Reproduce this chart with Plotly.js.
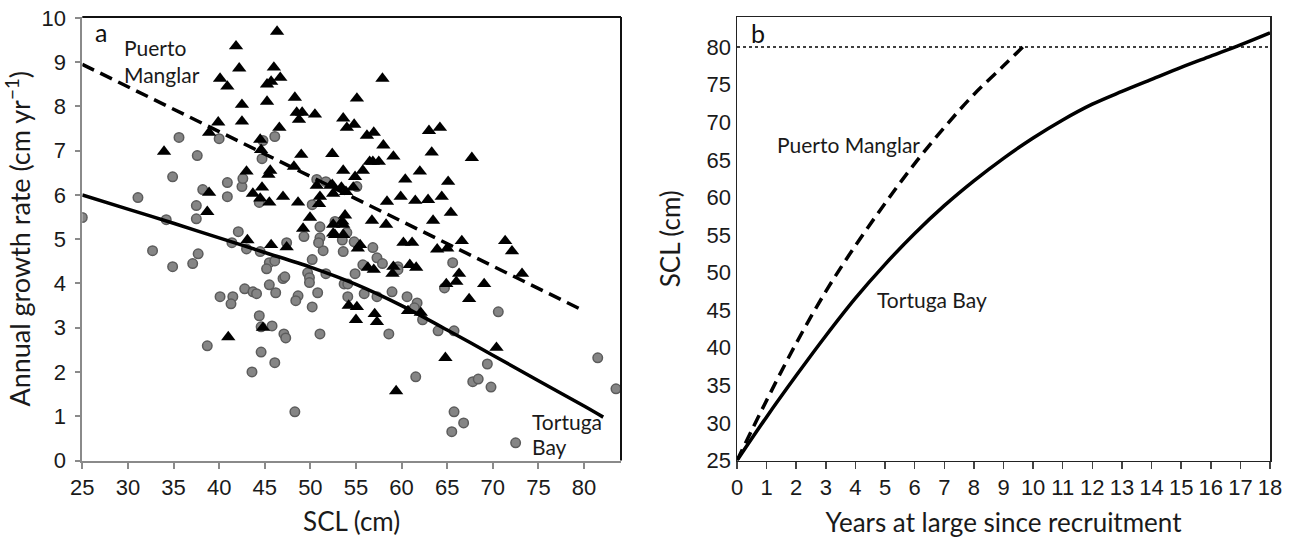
<!DOCTYPE html>
<html>
<head>
<meta charset="utf-8">
<script src="https://cdn.plot.ly/plotly-3.0.1.min.js"></script>
<style>html,body{margin:0;padding:0;background:#fff}#chart{width:1296px;height:542px}</style>
</head>
<body>
<div id="chart"></div>
<script>
// ---------- Panel a: Puerto Manglar (triangles) ----------
const pmSCL = [46.35,41.85,42.2,46.0,40.1,40.9,46.7,45.25,45.7,42.5,45.25,48.3,42.5,39.9,38.9,46.6,48.5,49.1,48.75,50.5,
  53.6,54.0,54.8,55.1,33.96,44.5,44.6,49.0,52.4,43.0,45.6,45.4,48.2,53.6,54.9,54.7,38.9,43.7,44.7,44.5,
  45.5,47.0,48.65,50.7,51.05,50.95,52.5,53.4,53.9,38.7,49.96,53.8,53.5,57.9,56.2,56.95,58.0,63.0,64.2,56.85,
  56.5,57.5,59.1,63.3,67.7,55.75,62.0,60.4,65.1,52.4,58.4,59.9,61.5,62.9,64.4,65.4,56.75,58.3,63.45,52.5,
  53.6,71.35,72.1,66.6,60.2,61.15,63.9,65.0,55.45,55.2,60.9,61.6,59.1,59.0,56.3,56.95,73.2,66.3,66.0,69.05,
  64.9,67.4,54.2,55.1,55.0,57.05,57.3,62.1,60.7,49.2,52.5,53.6,52.7,43.1,45.7,47.4,41.0,44.8,59.4,64.8,
  70.4,52.2];
const pmGrowth = [9.69,9.36,8.86,8.88,8.63,8.45,8.65,8.50,8.56,8.04,8.11,8.20,7.66,7.64,7.41,7.52,7.86,7.86,7.70,7.82,
  7.73,7.52,7.59,8.18,6.98,7.25,7.02,6.91,6.93,6.53,6.55,6.46,6.64,6.55,6.41,6.17,6.05,6.03,6.17,5.92,
  5.83,5.96,5.83,6.21,5.96,5.80,6.03,6.17,6.07,5.62,5.49,5.54,5.40,8.63,7.34,7.41,7.12,7.45,7.52,6.75,
  6.75,6.75,6.87,6.96,6.84,6.55,6.53,6.35,6.30,6.23,5.85,5.96,5.87,5.89,5.96,5.60,5.42,5.33,5.42,5.33,
  5.33,4.96,4.73,4.96,4.92,4.92,4.77,4.79,4.87,4.79,4.42,4.36,4.38,4.22,4.36,4.31,4.22,4.22,4.04,3.99,
  3.99,3.65,3.50,3.47,3.18,3.31,3.13,3.34,3.38,5.24,5.13,5.10,5.10,4.98,4.87,4.82,2.79,3.00,1.57,2.32,
  2.55,6.21];

// ---------- Panel a: Tortuga Bay (circles) ----------
const tbSCL = [25.0,31.1,34.2,34.9,35.6,37.6,37.5,37.5,38.2,40.0,40.9,40.9,42.5,42.6,44.4,44.7,44.8,46.1,42.1,50.2,
  50.7,51.7,52.7,51.05,55.1,32.7,34.9,37.7,37.1,41.4,43.0,44.5,45.5,46.1,45.2,47.4,47.0,47.2,45.5,46.2,
  42.8,43.7,44.1,40.1,41.5,41.3,44.4,50.2,49.7,49.9,49.9,48.65,48.4,50.8,50.2,51.7,51.4,51.05,50.9,49.3,
  53.5,53.6,53.7,54.1,54.1,54.8,56.85,57.3,57.9,55.75,54.9,59.6,59.6,65.6,64.7,58.95,60.6,61.7,61.4,55.9,
  57.3,70.6,51.05,54.0,58.6,62.3,64.0,65.75,61.55,69.4,67.8,68.4,69.8,65.75,66.8,65.5,72.5,81.5,83.5,38.7,
  44.6,45.8,47.1,47.3,44.6,46.1,43.6,48.3];
const tbGrowth = [5.49,5.94,5.44,6.41,7.30,6.89,5.76,5.46,6.12,7.27,6.28,5.96,6.19,6.37,5.83,6.82,7.23,7.32,5.17,5.78,
  6.35,6.30,5.40,5.28,6.19,4.74,4.38,4.67,4.45,4.92,4.78,4.72,4.47,4.51,4.33,4.92,4.11,4.15,3.97,3.79,
  3.88,3.81,3.77,3.70,3.70,3.54,3.27,4.54,4.24,4.13,4.02,3.72,3.61,3.79,3.47,4.22,4.74,5.03,4.92,5.06,
  4.98,4.72,3.99,3.99,3.70,4.94,4.81,4.58,4.45,4.42,4.22,4.38,4.31,4.47,3.90,3.81,3.70,3.56,3.45,3.77,
  3.70,3.36,2.86,5.15,2.86,3.18,2.93,2.93,1.89,2.18,1.78,1.84,1.66,1.10,0.85,0.65,0.40,2.32,1.62,2.59,
  3.02,3.04,2.86,2.77,2.45,2.21,2.00,1.10];

// ---------- Panel a: fitted lines ----------
const pmFitSCL = [25, 80];
const pmFitGrowth = [8.95, 3.38];
const tbFitSCL = [25, 30, 35, 40, 45, 50, 55, 60, 65, 70, 75, 80, 82.1];
const tbFitGrowth = [6.0, 5.68, 5.36, 5.03, 4.7, 4.37, 3.98, 3.5, 2.95, 2.38, 1.8, 1.23, 0.98];

// ---------- Panel b: growth curves ----------
const pmYears = [0, 1, 2, 3, 4, 5, 6, 7, 8, 9, 9.65];
const pmCurve = [25, 33.0, 40.6, 47.5, 53.6, 59.2, 64.5, 69.3, 73.7, 77.5, 80.0];
const tbYears = [0, 1, 2, 3, 4, 5, 6, 7, 8, 9, 10, 11, 12, 13, 14, 15, 16, 17, 18];
const tbCurve = [25, 30.8, 36.3, 41.6, 46.6, 51.1, 55.2, 58.9, 62.2, 65.2, 67.9, 70.3, 72.4, 74.1, 75.7, 77.3, 78.8, 80.3, 81.9];
const refYears = [0, 18];
const refSCL = [80, 80];

// ---------- Tick values ----------
const aXTicks = [25,30,35,40,45,50,55,60,65,70,75,80];
const aYTicks = [0,1,2,3,4,5,6,7,8,9,10];
const bXTicks = [0,1,2,3,4,5,6,7,8,9,10,11,12,13,14,15,16,17,18];
const bYTicks = [25,30,35,40,45,50,55,60,65,70,75,80];

const tickFont = {family: 'Liberation Sans, Arial, sans-serif', size: 22, color: '#1a1a1a'};
const labFont = {family: 'Lato, Open Sans, sans-serif', size: 26, color: '#1a1a1a'};
const annFont = {family: 'Lato, Open Sans, sans-serif', size: 21, color: '#1a1a1a'};

const traces = [
  {x: tbSCL, y: tbGrowth, type: 'scatter', mode: 'markers', name: 'Tortuga Bay', xaxis: 'x', yaxis: 'y',
   marker: {symbol: 'circle', size: 9.5, color: '#858585', line: {color: '#5c5c5c', width: 1.5}}},
  {x: pmSCL, y: pmGrowth, type: 'scatter', mode: 'markers', name: 'Puerto Manglar', xaxis: 'x', yaxis: 'y',
   marker: {symbol: 'triangle-up', size: 12.5, color: '#000', line: {width: 0}}},
  {x: pmFitSCL, y: pmFitGrowth, type: 'scatter', mode: 'lines', xaxis: 'x', yaxis: 'y',
   line: {color: '#000', width: 3.5, dash: '13px,7px'}},
  {x: tbFitSCL, y: tbFitGrowth, type: 'scatter', mode: 'lines', xaxis: 'x', yaxis: 'y',
   line: {color: '#000', width: 3.5, shape: 'spline', smoothing: 0.8}},
  {x: refYears, y: refSCL, type: 'scatter', mode: 'lines', xaxis: 'x2', yaxis: 'y2',
   line: {color: '#000', width: 1.5, dash: 'dot'}},
  {x: pmYears, y: pmCurve, type: 'scatter', mode: 'lines', xaxis: 'x2', yaxis: 'y2',
   line: {color: '#000', width: 3.5, dash: '12px,7px', shape: 'spline'}},
  {x: tbYears, y: tbCurve, type: 'scatter', mode: 'lines', xaxis: 'x2', yaxis: 'y2',
   line: {color: '#000', width: 3.5, shape: 'spline'}}
];

const W = 1296, H = 542;
const yDom = [1 - 460.5 / H, 1 - 17 / H];

const layout = {
  width: W, height: H,
  margin: {l: 0, r: 0, t: 0, b: 0},
  paper_bgcolor: '#fff', plot_bgcolor: '#fff',
  showlegend: false,
  xaxis: {domain: [82.3 / W, 621 / W], range: [25, 84.05], tickvals: aXTicks, ticks: 'outside', ticklen: 6,
    tickcolor: '#8a8a8a', tickwidth: 2, showline: true, linecolor: '#8a8a8a', linewidth: 2, showgrid: false, zeroline: false,
    tickfont: tickFont, title: {text: 'SCL (cm)', font: labFont, standoff: 14}},
  yaxis: {domain: yDom, range: [0, 10.02], tickvals: aYTicks, ticks: 'outside', ticklen: 5,
    tickcolor: '#8a8a8a', tickwidth: 2, showline: true, linecolor: '#8a8a8a', linewidth: 2, showgrid: false, zeroline: false,
    ticklabelstandoff: 5,
    tickfont: tickFont, title: {text: 'Annual growth rate (cm yr<sup>−1</sup>)', font: {family: labFont.family, size: 27, color: '#1a1a1a'}, standoff: 8}},
  xaxis2: {domain: [737 / W, 1270 / W], range: [0, 18], tickvals: bXTicks, ticks: 'outside', ticklen: 7,
    tickcolor: '#444', tickwidth: 1.5, showline: true, linecolor: '#222', linewidth: 1.5, mirror: true, showgrid: false, zeroline: false,
    anchor: 'y2', tickfont: tickFont, title: {text: 'Years at large since recruitment', font: labFont, standoff: 14}},
  yaxis2: {domain: yDom, range: [25, 84], tickvals: bYTicks, ticks: '', showline: true, linecolor: '#222', linewidth: 1.5,
    mirror: true, showgrid: false, zeroline: false, anchor: 'x2', tickfont: tickFont,
    title: {text: 'SCL (cm)', font: labFont, standoff: 18}},
  shapes: [
    {type: 'line', xref: 'x domain', yref: 'y domain', x0: 0, x1: 1, y0: 1, y1: 1, line: {color: '#111', width: 2}},
    {type: 'line', xref: 'x domain', yref: 'y domain', x0: 1, x1: 1, y0: 0, y1: 1, line: {color: '#111', width: 2}}
  ],
  annotations: [
    {x: 26.2, y: 9.67, xref: 'x', yref: 'y', text: 'a', showarrow: false, xanchor: 'left', font: {family: annFont.family, size: 25, color: '#111'}},
    {x: 29.3, y: 9.33, xref: 'x', yref: 'y', text: 'Puerto', showarrow: false, xanchor: 'left', font: annFont},
    {x: 29.3, y: 8.72, xref: 'x', yref: 'y', text: 'Manglar', showarrow: false, xanchor: 'left', font: annFont},
    {x: 74.1, y: 0.87, xref: 'x', yref: 'y', text: 'Tortuga', showarrow: false, xanchor: 'left', font: annFont},
    {x: 74.1, y: 0.31, xref: 'x', yref: 'y', text: 'Bay', showarrow: false, xanchor: 'left', font: annFont},
    {x: 0.4, y: 81.9, xref: 'x2', yref: 'y2', text: 'b', showarrow: false, xanchor: 'left', font: {family: annFont.family, size: 25, color: '#111'}},
    {x: 1.28, y: 67.0, xref: 'x2', yref: 'y2', text: 'Puerto Manglar', showarrow: false, xanchor: 'left', font: annFont},
    {x: 4.66, y: 46.4, xref: 'x2', yref: 'y2', text: 'Tortuga Bay', showarrow: false, xanchor: 'left', font: annFont}
  ]
};

Plotly.newPlot('chart', traces, layout, {displayModeBar: false, staticPlot: true});
</script>
</body>
</html>
